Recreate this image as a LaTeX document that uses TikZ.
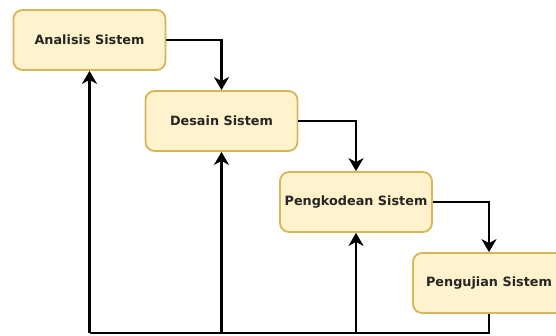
\documentclass[tikz,border=0pt]{standalone}
\usepackage{fontspec}
\setmainfont{DejaVu Sans}
\usetikzlibrary{arrows.meta}
\definecolor{boxfill}{HTML}{FFF2CC}
\definecolor{boxline}{HTML}{D6B656}
\begin{document}
\begin{tikzpicture}[x=1pt,y=-1pt,
  stage/.style={draw=boxline,fill=boxfill,line width=1.8pt,rounded corners=9pt,
    minimum width=152pt,minimum height=60pt,inner sep=0pt,
    font=\fontsize{12.8}{14}\selectfont\bfseries,text=black!85},
  link/.style={draw=black,line width=2.5pt,-{Stealth[length=13pt,width=15pt,inset=4pt]}}]
\useasboundingbox (0,0) rectangle (556,336);
\begin{scope}
\clip (0,0) rectangle (556,336);
\node[stage] (a) at (89.5,40) {Analisis Sistem};
\node[stage] (d) at (221.5,121) {Desain Sistem};
\node[stage] (k) at (356,202) {Pengkodean Sistem};
\node[stage] (u) at (489,283) {Pengujian Sistem};
\coordinate (b1) at (89.5,333);
\coordinate (b2) at (221.5,333);
\coordinate (b3) at (356,333);
\coordinate (b4) at (489,333);
\draw[link] (a.east) -| (d.north);
\draw[link] (d.east) -| (k.north);
\draw[link] (k.east) -| (u.north);
\draw[draw=black,line width=2.5pt] (u.south) -- (b4) -- (b1);
\draw[link] (b1) -- (a.south);
\draw[link] (b2) -- (d.south);
\draw[link] (b3) -- (k.south);
\end{scope}
\end{tikzpicture}
\end{document}
